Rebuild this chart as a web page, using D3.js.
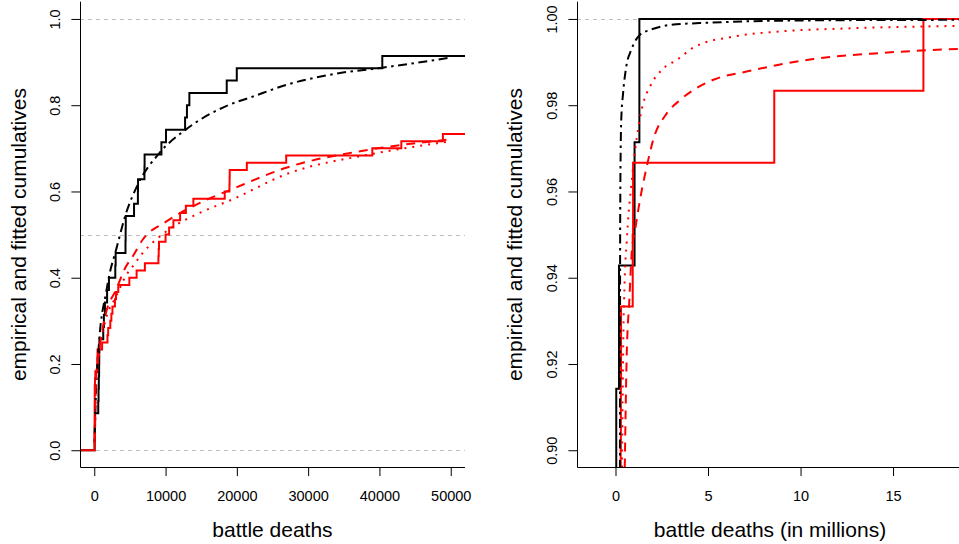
<!DOCTYPE html>
<html>
<head>
<meta charset="utf-8">
<script src="https://cdn.jsdelivr.net/npm/d3@7"></script>
<style>
  body { margin: 0; background: #fff; }
  svg { display: block; font-family: "Liberation Sans", Arial, Helvetica, sans-serif; }
</style>
</head>
<body>
<div id="chart"></div>
<script>
// battle deaths of each conflict (black group, 35 wars)
const blackDeaths = [60, 90, 120, 560, 600, 640, 680, 700, 720, 1260, 1350, 1500, 1800, 2060,
    2950, 3000, 4380, 4400, 4420, 5580, 6120, 6140, 7040, 7060, 9420, 10060, 12740, 13000,
    13340, 18580, 19990, 40400, 190000, 1030000, 1290000];

// battle deaths of each conflict (red group, 60 wars)
const redDeaths = [30, 35, 40, 45, 50, 55, 60, 65, 70, 100, 150, 400, 430, 460, 1100, 1850,
    1950, 2250, 2400, 2550, 2900, 3050, 3370, 4920, 5940, 7100, 9000, 9040, 9080, 10000,
    10500, 11100, 12040, 12850, 13900, 18300, 18960, 18980, 19000, 21400, 26920, 39000,
    43070, 48900, 55000, 62000, 70000, 80000, 95000, 110000, 130000, 160000, 200000,
    280000, 290000, 300000, 930000, 950000, 8580000, 16640000];

// fitted cumulatives, left panel: [battle deaths, F]
const leftFitBlack = [[30, 0.02], [240, 0.132], [700, 0.256], [1640, 0.364], [2110, 0.406],
    [3050, 0.464], [4450, 0.549], [6080, 0.615], [9130, 0.689], [12880, 0.744], [18500, 0.798],
    [22230, 0.82], [26920, 0.847], [33470, 0.872], [40400, 0.887], [49860, 0.91]];
const leftFitRedDashed = [[60, 0.02], [240, 0.163], [700, 0.233], [1640, 0.318], [3050, 0.372],
    [4450, 0.426], [5380, 0.449], [6780, 0.488], [10070, 0.53], [14750, 0.573], [19430, 0.606],
    [26920, 0.655], [39000, 0.698], [49400, 0.72]];
const leftFitRedDotted = [[80, 0.015], [240, 0.15], [700, 0.228], [1640, 0.305], [3050, 0.356],
    [4450, 0.405], [5380, 0.426], [6780, 0.457], [10070, 0.507], [14750, 0.55], [19430, 0.582],
    [26920, 0.64], [39000, 0.687], [49400, 0.715]];

// fitted cumulatives, right panel: [battle deaths in millions, F]
const rightFitBlack = [[0.24, 0.894], [0.25, 0.9488], [0.26, 0.9596], [0.28, 0.9696], [0.31, 0.9766],
    [0.41, 0.9828], [0.58, 0.9889], [0.85, 0.9928], [1.31, 0.9963], [1.86, 0.99745], [2.95, 0.9986],
    [5.11, 0.99914], [10, 0.99965], [18.8, 0.9998]];
const rightFitRedDashed = [[0.5, 0.896], [0.6, 0.921], [0.75, 0.935], [0.88, 0.946], [1.05, 0.9508],
    [1.32, 0.958], [1.69, 0.9658], [2.04, 0.972], [2.77, 0.9781], [3.49, 0.9812], [5.29, 0.9859],
    [7.09, 0.9878], [10.69, 0.9907], [14.3, 0.9921], [18.8, 0.9931]];
const rightFitRedDotted = [[0.35, 0.896], [0.42, 0.925], [0.5, 0.94], [0.6, 0.948], [0.72, 0.9555],
    [0.88, 0.9625], [0.96, 0.966], [1.15, 0.9725], [1.32, 0.977], [1.5, 0.9805], [1.86, 0.9843],
    [2.58, 0.9885], [3.31, 0.9905], [4.3, 0.9936], [6.37, 0.9959], [8.89, 0.9971], [12.5, 0.9978],
    [18.8, 0.9984]];

// ticks and reference lines
const leftXTicks = [0, 10000, 20000, 30000, 40000, 50000];
const leftYTicks = [0, 0.2, 0.4, 0.6, 0.8, 1.0];
const rightXTicks = [0, 5, 10, 15];
const rightYTicks = [0.90, 0.92, 0.94, 0.96, 0.98, 1.00];
const leftRefLines = [0, 0.5, 1];
const rightRefLines = [1];

const W = 959, H = 544;
const svg = d3.select("#chart").append("svg")
    .attr("width", W)
    .attr("height", H);
svg.append("rect").attr("width", W).attr("height", H).attr("fill", "#fff");

// line styles
const ecdfWidth = 2;
const fitStyles = {
    black: { color: "#000000", dash: "2.5,4.5,9,4.5" },
    redDashed: { color: "#ff0000", dash: "9,7" },
    redDotted: { color: "#ff0000", dash: "2,6" }
};

// step points for the empirical cumulative
function ecdfPoints(values, div, x0, x1) {
    const s = values.slice().sort(d3.ascending);
    const n = s.length;
    const pts = [[x0, 0]];
    s.forEach((v, i) => pts.push([v / div, (i + 1) / n]));
    pts.push([x1, 1]);
    return pts;
}

function drawPanel(cfg) {
    const x = d3.scaleLinear().domain(cfg.xDomain).range(cfg.xRange);
    const y = d3.scaleLinear().domain(cfg.yDomain).range(cfg.yRange);
    const g = svg.append("g");

    const clipId = "clip-" + cfg.id;
    svg.append("clipPath").attr("id", clipId)
        .append("rect")
        .attr("x", cfg.xRange[0])
        .attr("y", cfg.yRange[1])
        .attr("width", cfg.xRange[1] - cfg.xRange[0])
        .attr("height", cfg.yRange[0] - cfg.yRange[1]);

    const plot = g.append("g").attr("clip-path", `url(#${clipId})`);

    // gris punteado de referencia
    plot.selectAll(".ref")
        .data(cfg.refLines)
        .enter().append("line")
        .attr("x1", cfg.xRange[0])
        .attr("x2", cfg.xRange[1])
        .attr("y1", d => Math.round(y(d)) + 0.5)
        .attr("y2", d => Math.round(y(d)) + 0.5)
        .attr("stroke", "#bebebe")
        .attr("stroke-width", 1)
        .attr("stroke-dasharray", "4,4");

    const line = d3.line()
        .x(d => x(d[0]))
        .y(d => y(d[1]));

    // empirical cumulatives
    const stepLine = d3.line()
        .x(d => x(d[0]))
        .y(d => y(d[1]))
        .curve(d3.curveStepAfter);

    [[blackDeaths, "#000000"], [redDeaths, "#ff0000"]].forEach(([vals, col]) => {
        plot.append("path")
            .datum(ecdfPoints(vals, cfg.div, cfg.xDomain[0] - 1, cfg.xDomain[1] * 2))
            .attr("d", stepLine)
            .attr("fill", "none")
            .attr("stroke", col)
            .attr("stroke-width", ecdfWidth);
    });

    // fitted cumulatives
    const smooth = line.curve(d3.curveMonotoneX);
    cfg.fits.forEach(([pts, style]) => {
        plot.append("path")
            .datum(pts)
            .attr("d", smooth)
            .attr("fill", "none")
            .attr("stroke", style.color)
            .attr("stroke-width", 2)
            .attr("stroke-dasharray", style.dash);
    });

    // L-shaped box
    const bx = cfg.xRange[0] + 0.5;
    const by = cfg.yRange[0];
    g.append("path")
        .attr("d", `M${bx},${cfg.yRange[1]}V${by}H${cfg.xRange[1]}`)
        .attr("fill", "none")
        .attr("stroke", "#000")
        .attr("stroke-width", 1);

    // Ejes
    const xAxis = g.append("g")
        .attr("transform", `translate(0, ${by})`)
        .call(d3.axisBottom(x).tickValues(cfg.xTicks).tickSize(8.6).tickFormat(cfg.xFormat));
    xAxis.select(".domain").remove();
    xAxis.selectAll(".tick line").attr("stroke", "#000");
    xAxis.selectAll("text")
        .attr("y", 33.2)
        .attr("dy", 0)
        .attr("fill", "#000")
        .style("font-size", "14.5px")
        .style("font-family", "'Liberation Sans', Arial, sans-serif");

    const yAxis = g.append("g")
        .attr("transform", `translate(${cfg.xRange[0]}, 0)`)
        .call(d3.axisLeft(y).tickValues(cfg.yTicks).tickSize(8.6).tickFormat(cfg.yFormat));
    yAxis.select(".domain").remove();
    yAxis.selectAll(".tick line").attr("stroke", "#000");
    yAxis.selectAll("text")
        .attr("transform", "rotate(-90)")
        .attr("x", 0)
        .attr("y", -20.3)
        .attr("dy", 0)
        .attr("text-anchor", "middle")
        .attr("fill", "#000")
        .style("font-size", "14.5px")
        .style("font-family", "'Liberation Sans', Arial, sans-serif");

    // Etiquetas de los ejes
    g.append("text")
        .attr("x", (cfg.xRange[0] + cfg.xRange[1]) / 2)
        .attr("y", 536.5)
        .attr("text-anchor", "middle")
        .style("font-size", "21px")
        .text(cfg.xLabel);

    g.append("text")
        .attr("transform", `translate(${cfg.yLabelX}, ${(cfg.yRange[0] + cfg.yRange[1]) / 2}) rotate(-90)`)
        .attr("text-anchor", "middle")
        .style("font-size", "21px")
        .text("empirical and fitted cumulatives");
}

drawPanel({
    id: "left",
    div: 1,
    xDomain: [-2000, 52000],
    xRange: [80, 465],
    yDomain: [-0.04, 1.04],
    yRange: [467.5, 1.7],
    xTicks: leftXTicks,
    yTicks: leftYTicks,
    xFormat: d3.format("d"),
    yFormat: d3.format(".1f"),
    refLines: leftRefLines,
    xLabel: "battle deaths",
    yLabelX: 25.5,
    fits: [[leftFitBlack, fitStyles.black], [leftFitRedDashed, fitStyles.redDashed], [leftFitRedDotted, fitStyles.redDotted]]
});

drawPanel({
    id: "right",
    div: 1e6,
    xDomain: [-2.081, 18.78],
    xRange: [577, 963],
    yDomain: [0.896, 1.004],
    yRange: [467.5, 1.7],
    xTicks: rightXTicks,
    yTicks: rightYTicks,
    xFormat: d3.format("d"),
    yFormat: d3.format(".2f"),
    refLines: rightRefLines,
    xLabel: "battle deaths (in millions)",
    yLabelX: 522,
    fits: [[rightFitBlack, fitStyles.black], [rightFitRedDashed, fitStyles.redDashed], [rightFitRedDotted, fitStyles.redDotted]]
});
</script>
</body>
</html>
